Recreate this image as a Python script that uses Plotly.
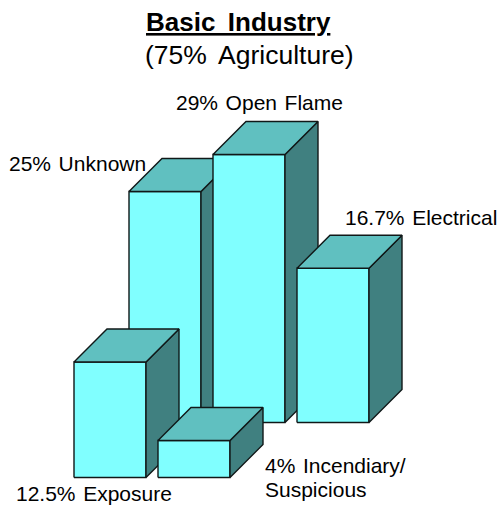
import plotly.graph_objects as go

categories = ["Unknown", "Open Flame", "Electrical", "Exposure", "Incendiary/Suspicious"]
values = [25, 29, 16.7, 12.5, 4]
slots = [0, 1, 2, 0, 1]
rows = [0, 0, 0, 1, 1]
labels = ["25%\u200a Unknown", "29%\u200a Open\u200a Flame", "16.7%\u200a Electrical", "12.5%\u200a Exposure", "4%\u200a Incendiary/", "Suspicious"]

FRONT, TOP, SIDE = "#80FFFF", "#60C0C0", "#408080"
PX_PER_PCT = 9.24
X0, PITCH, WIDTH, DEPTH, ROW_SHIFT = 129, 84, 72, 33, 55
BASE = 422.5


def ypx(px):
    return (BASE - px) / PX_PER_PCT


fig = go.Figure()
for v, s, r in zip(values, slots, rows):
    x0 = X0 + s * PITCH - r * ROW_SHIFT
    x1 = x0 + WIDTH
    b = -r * ROW_SHIFT / PX_PER_PCT
    t = b + v
    d = DEPTH / PX_PER_PCT
    faces = [
        (FRONT, [x0, x1, x1, x0, x0], [b, b, t, t, b]),
        (SIDE, [x1, x1 + DEPTH, x1 + DEPTH, x1, x1], [b, b + d, t + d, t, b]),
        (TOP, [x0, x1, x1 + DEPTH, x0 + DEPTH, x0], [t, t, t + d, t + d, t]),
    ]
    for color, xs, ys in faces:
        fig.add_trace(go.Scatter(x=xs, y=ys, mode="lines", fill="toself", fillcolor=color,
                                 line=dict(color="#101818", width=1.4), hoverinfo="skip", showlegend=False))

FONT = "Liberation Sans, Arial, sans-serif"


def note(text, x, py, size=21, anchor="left"):
    fig.add_annotation(x=x, y=ypx(py), text=text, showarrow=False, xanchor=anchor, yanchor="middle",
                       align="left", font=dict(family=FONT, size=size, color="black"))


note(labels[0], 7, 163)
note(labels[1], 174, 102)
note(labels[2], 343, 217)
note(labels[3], 14, 493)
note(labels[4], 263, 465.5)
note(labels[5], 263, 489.5)
note("<b><u>Basic\u2009 Industry</u></b>", 238, 22, size=26, anchor="center")
note("(75%\u2009 Agriculture)", 249.5, 55, size=26.5, anchor="center")

fig.update_layout(
    width=500, height=505, margin=dict(l=0, r=0, t=0, b=0),
    paper_bgcolor="white", plot_bgcolor="white",
    xaxis=dict(range=[0, 500], visible=False, fixedrange=True),
    yaxis=dict(range=[ypx(505), ypx(0)], visible=False, fixedrange=True),
)
fig.write_html("out.html", config=dict(displayModeBar=False),
               post_script="document.body.style.margin='0';document.body.style.overflow='hidden';")
